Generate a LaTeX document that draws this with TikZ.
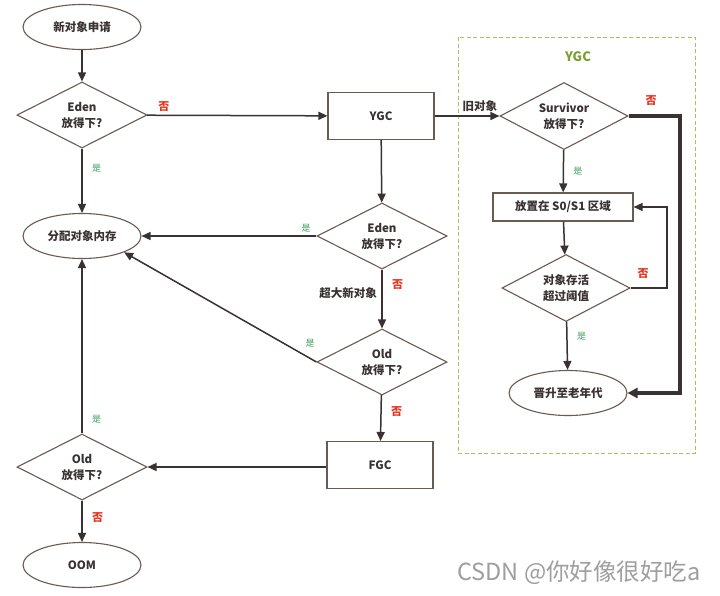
\documentclass[tikz,border=0pt]{standalone}
\usepackage{fontspec}
\setmainfont{Noto Sans CJK SC}
\usetikzlibrary{shapes.geometric,arrows.meta,calc}
\definecolor{ink}{HTML}{3A3232}
\definecolor{edge}{HTML}{6A5A50}
\definecolor{yes}{HTML}{3CA05A}
\definecolor{no}{HTML}{E8321E}
\definecolor{grp}{HTML}{A8C060}
\definecolor{grptxt}{HTML}{7AA032}
\tikzset{
  x=1pt,y=-1pt,
  every node/.style={text=ink,font=\fontsize{11.5}{16}\selectfont\bfseries},
  oval/.style={ellipse,draw=edge,line width=1.1pt,minimum width=118pt,minimum height=45pt,inner sep=0pt},
  dia/.style={diamond,draw=edge,line width=1.1pt,minimum width=130pt,minimum height=66pt,inner sep=0pt,aspect=2,align=center},
  boxn/.style={rectangle,draw=edge,line width=1.1pt,minimum width=106pt,minimum height=47pt,inner sep=0pt},
  arr/.style={draw=ink,line width=1.5pt,-{Triangle[length=9pt,width=8pt]}},
  heavyarr/.style={draw=ink,line width=3.2pt,-{Triangle[length=10pt,width=10pt]}},
  ylab/.style={text=yes,font=\fontsize{9}{10}\selectfont},
  nlab/.style={text=no,font=\fontsize{11}{12}\selectfont\bfseries},
}
\begin{document}
\begin{tikzpicture}
\useasboundingbox[fill=white] (0,0) rectangle (720,595);
% group box
\draw[grp,line width=0.9pt,dash pattern=on 4pt off 2.5pt] (458,37) rectangle (695,453);
\node[text=grptxt,font=\fontsize{13}{14}\selectfont\bfseries] (ygct) at (578,57) {YGC};

% left column
\node[oval] (start) at (82,27) {新对象申请};
\node[dia] (eden1) at (82,115) {Eden\\放得下?};
\node[oval] (alloc) at (82,236) {分配对象内存};
\node[dia] (old2) at (82,467) {Old\\放得下?};
\node[oval] (oom) at (82,565) {OOM};

% middle column
\node[boxn] (ygc) at (381,116) {YGC};
\node[dia] (eden2) at (382,236) {Eden\\放得下?};
\node[dia] (old1) at (382,362) {Old\\放得下?};
\node[boxn] (fgc) at (380,465) {FGC};

% right group
\node[dia,minimum width=128pt,minimum height=67pt] (surv) at (564,116) {Survivor\\放得下?};
\node[rectangle,draw=edge,line width=1.1pt,minimum width=140pt,minimum height=28pt,inner sep=0pt] (s01) at (563,207) {放置在 S0/S1 区域};
\node[dia,minimum width=128pt,minimum height=67pt] (age) at (566,288) {对象存活\\超过阈值};
\node[oval,minimum width=118pt,minimum height=45pt] (prom) at (568,393) {晋升至老年代};

% connectors left
\draw[arr] (start) -- (eden1);
\draw[arr] (eden1) -- node[ylab,right=6pt,pos=0.3] (l1) {是} (alloc);
\draw[arr] (eden1) -- node[nlab,above,pos=0.04,anchor=south west] (l2) {否} (ygc);
\draw[arr] (ygc) -- (eden2);
\draw[arr] (eden2) -- node[ylab,above,pos=0.01,anchor=south east] (l3) {是} (alloc);
\draw[arr] (eden2) -- node[nlab,right=6pt,pos=0.25] (l4) {否} node[left=1pt,pos=0.4] (l5) {超大新对象} (old1);
\draw[arr] (old1.west) -- (alloc.south east);
\node[ylab] (l6) at (310,343) {是};
\draw[arr] (old1) -- node[nlab,right=6pt,pos=0.35] (l7) {否} (fgc);
\draw[arr] (fgc.west |- old2.east) -- (old2.east);
\draw[arr] (old2) -- node[ylab,right=6pt,pos=0.08] (l8) {是} (alloc);
\draw[arr] (old2) -- node[nlab,right=6pt,pos=0.4] (l9) {否} (oom);

% connectors right
\draw[arr] (ygc.east) -- node[above=0pt,pos=0.7] (l10) {旧对象} (surv.west);
\draw[arr] (surv) -- node[ylab,right=6pt] (l11) {是} (s01);
\draw[arr] (s01) -- (age);
\coordinate (loop) at (667,288);
\draw[arr] (age.east) -- (loop) |- (s01.east);
\node[nlab] (l12) at (643,274) {否};
\coordinate (big) at (680,116);
\draw[heavyarr] (surv.east) -- (big) |- (prom.east);
\node[nlab] (l13) at (651,101) {否};
\draw[arr] (age) -- node[ylab,right=6pt,pos=0.3] (l14) {是} (prom);

% watermark
\node[text=black!38,font=\fontsize{23.5}{24}\selectfont] (wm) at (579,573) {CSDN @你好像很好吃a};
\end{tikzpicture}
\end{document}
